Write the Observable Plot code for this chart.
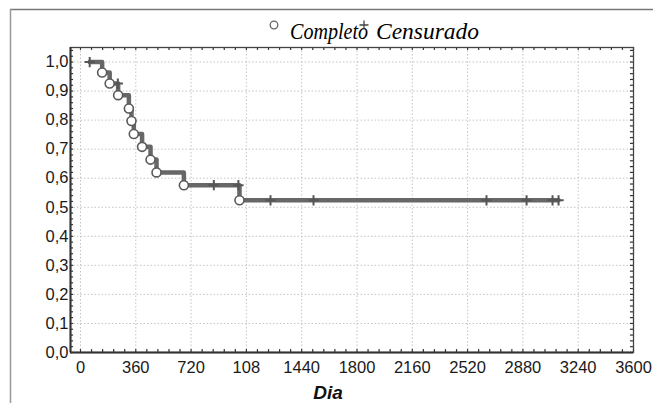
<!DOCTYPE html>
<html>
<head>
<meta charset="utf-8">
<script src="https://cdn.jsdelivr.net/npm/d3@7"></script>
<script src="https://cdn.jsdelivr.net/npm/@observablehq/plot@0.6"></script>
<style>
  html, body { margin: 0; padding: 0; background: white; }
  #chart { width: 653px; height: 403px; overflow: hidden; }
</style>
</head>
<body>
<div id="chart"></div>
<script>
// ---- data ----
const xTicks = [0, 360, 720, 1080, 1440, 1800, 2160, 2520, 2880, 3240, 3600];
const xTickLabels = ["0", "360", "720", "108", "1440", "1800", "2160", "2520", "2880", "3240", "3600"];
const yTicks = [0, 0.1, 0.2, 0.3, 0.4, 0.5, 0.6, 0.7, 0.8, 0.9, 1.0];
const yTickLabels = ["0,0", "0,1", "0,2", "0,3", "0,4", "0,5", "0,6", "0,7", "0,8", "0,9", "1,0"];

const startTime = 60;
const startSurv = 1.0;
const eventTimes = [141, 190, 245, 315, 332, 347, 401, 456, 495, 673, 1035];
const eventSurv  = [0.964, 0.926, 0.886, 0.840, 0.797, 0.752, 0.708, 0.664, 0.620, 0.576, 0.524];
const censorTimes = [60, 243, 868, 1028, 1237, 1517, 2643, 2904, 3073, 3112];
const endTime = 3112;

const legendLabels = ["Completo", "Censurado"];
const xLabel = "Dia";

// ---- derived tables ----
function survAt(t) {
  let s = startSurv;
  for (let i = 0; i < eventTimes.length; i++) if (eventTimes[i] <= t) s = eventSurv[i];
  return s;
}
const stepData = [{t: startTime, s: startSurv}]
  .concat(eventTimes.map((t, i) => ({t, s: eventSurv[i]})))
  .concat([{t: endTime, s: survAt(endTime)}]);
const events = eventTimes.map((t, i) => ({t, s: eventSurv[i]}));
const censored = censorTimes.map(t => ({t, s: survAt(t)}));
const minorX = d3.range(0, 3601, 72);
const minorY = d3.range(0, 1.0501, 0.02);

const xDomain = [-65, 3600];
const yDomain = [0, 1.05];

const svg = Plot.plot({
  width: 653,
  height: 403,
  marginLeft: 70,
  marginRight: 20,
  marginTop: 47,
  marginBottom: 51,
  style: {fontFamily: "'Liberation Sans', Arial, sans-serif", fontSize: "16.5px", color: "#1a1a1a", background: "white"},
  x: {domain: xDomain, ticks: xTicks, tickSize: 0, tickPadding: 9, label: null,
      tickFormat: d => xTickLabels[xTicks.indexOf(d)]},
  y: {domain: yDomain, ticks: yTicks, tickSize: 0, tickPadding: 2, label: null,
      tickFormat: d => yTickLabels[yTicks.findIndex(v => Math.abs(v - d) < 1e-9)]},
  marks: [
    Plot.gridX(xTicks, {stroke: "#c4c4c4", strokeOpacity: 1, strokeDasharray: "1.5,2"}),
    Plot.gridY(yTicks, {stroke: "#c4c4c4", strokeOpacity: 1, strokeDasharray: "1.5,2"}),
    // minor ticks on all four sides
    Plot.ruleX(minorX, {y1: 0, y2: 0.01, stroke: "#333", strokeWidth: 1.2}),
    Plot.ruleX(minorX, {y1: 1.05, y2: 1.04, stroke: "#333", strokeWidth: 1.2}),
    Plot.ruleY(minorY, {x1: -65, x2: -45, stroke: "#333", strokeWidth: 1.2}),
    Plot.ruleY(minorY, {x1: 3600, x2: 3580, stroke: "#333", strokeWidth: 1.2}),
    Plot.frame({stroke: "#444", strokeWidth: 1.3}),
    Plot.ruleX([xDomain[0]], {stroke: "#333", strokeWidth: 2}),
    Plot.ruleY([0], {stroke: "#333", strokeWidth: 2}),
    Plot.line(stepData, {x: "t", y: "s", curve: "step-after", stroke: "#676767", strokeWidth: 4.5}),
    Plot.dot(censored, {x: "t", y: "s", symbol: "plus", r: 3.4, stroke: "#555", strokeWidth: 2}),
    Plot.dot(events, {x: "t", y: "s", r: 4.5, fill: "white", stroke: "#5a5a5a", strokeWidth: 1.6}),
    Plot.text([xLabel], {frameAnchor: "bottom", dx: -24, dy: 46, lineAnchor: "bottom",
      fontFamily: "'Liberation Sans', Arial, sans-serif", fontSize: 19, fontWeight: "bold",
      fontStyle: "italic", fill: "#111"})
  ]
});

// outer frame and legend
const g = d3.select(svg);
g.append("line").attr("x1", 10).attr("y1", 9.5).attr("x2", 653).attr("y2", 9.5)
  .attr("stroke", "#777").attr("stroke-width", 1.5);
g.append("line").attr("x1", 10.5).attr("y1", 9).attr("x2", 10.5).attr("y2", 403)
  .attr("stroke", "#999").attr("stroke-width", 1.5);
const leg = g.append("g").attr("text-anchor", "start");
leg.append("circle").attr("cx", 274).attr("cy", 25).attr("r", 3.8)
  .attr("fill", "white").attr("stroke", "#666").attr("stroke-width", 1.3);
leg.append("text").attr("x", 290).attr("y", 39).text(legendLabels[0])
  .attr("text-anchor", "start")
  .attr("font-family", "'Liberation Serif', 'Times New Roman', serif").attr("font-style", "italic")
  .attr("font-size", 24).attr("fill", "#000").attr("textLength", 78).attr("lengthAdjust", "spacingAndGlyphs");
leg.append("path").attr("d", "M359.5,25H368.5M364,20.5V29.5")
  .attr("stroke", "#444").attr("stroke-width", 1.3).attr("fill", "none");
leg.append("text").attr("x", 376).attr("y", 39).text(legendLabels[1])
  .attr("text-anchor", "start")
  .attr("font-family", "'Liberation Serif', 'Times New Roman', serif").attr("font-style", "italic")
  .attr("font-size", 24).attr("fill", "#000").attr("textLength", 103).attr("lengthAdjust", "spacingAndGlyphs");

document.getElementById("chart").appendChild(svg);
</script>
</body>
</html>
